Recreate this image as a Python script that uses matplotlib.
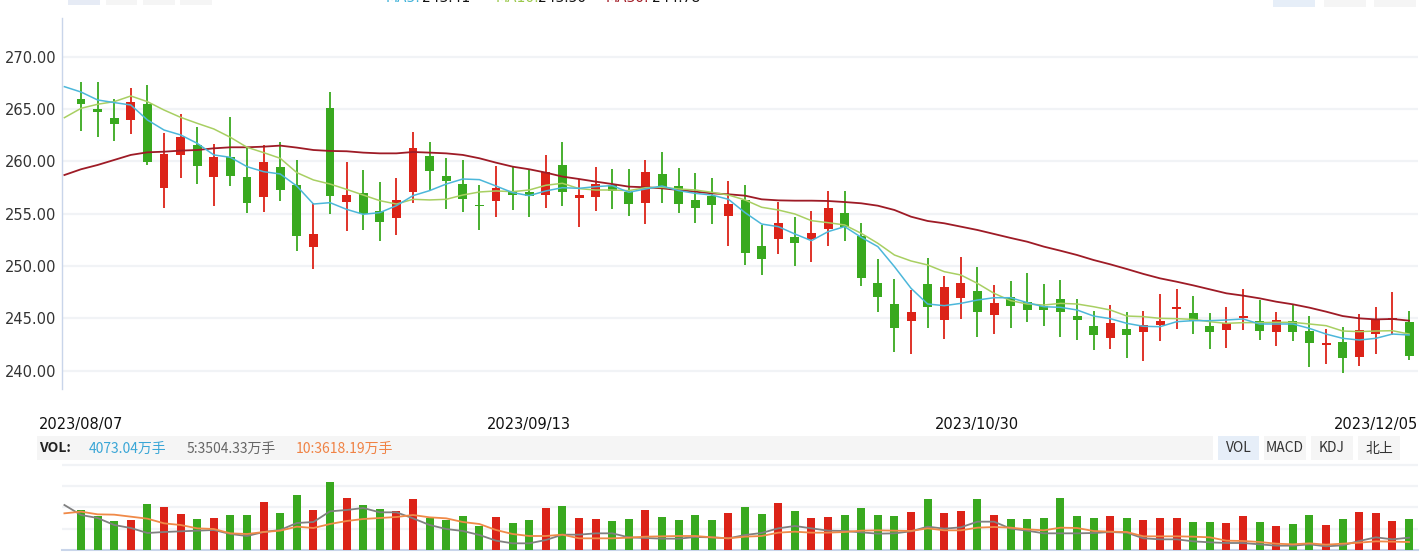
import matplotlib
matplotlib.use('Agg')
import matplotlib.pyplot as plt
import numpy as np
from matplotlib.patches import Rectangle
from matplotlib.transforms import blended_transform_factory

# ---------------- data ----------------
opens = [265.96, 265.00, 264.10, 263.98, 265.48, 257.48, 260.64, 261.53, 258.54, 260.41,
         258.50, 256.62, 259.46, 257.74, 251.85, 265.10, 256.15, 256.97, 255.25, 254.62,
         257.10, 260.51, 258.60, 257.83, 255.76, 256.24, 257.13, 257.04, 256.82, 259.65,
         256.53, 256.62, 257.71, 257.10, 256.05, 258.79, 257.64, 256.31, 256.69, 254.81,
         256.27, 251.91, 252.61, 252.77, 252.61, 253.57, 255.06, 252.87, 248.38, 246.37,
         244.78, 248.28, 244.87, 246.97, 247.61, 245.35, 247.04, 246.59, 246.18, 246.85,
         245.22, 244.27, 243.15, 243.98, 243.73, 244.36, 245.93, 245.51, 244.27, 243.92,
         245.03, 244.75, 243.73, 244.75, 243.79, 242.49, 242.74, 241.34, 243.54, 244.87,
         244.65]
highs = [267.55, 267.55, 266.00, 266.97, 267.30, 262.68, 264.49, 263.28, 261.66, 264.24,
         261.31, 261.53, 261.85, 260.13, 255.99, 266.62, 259.90, 259.17, 258.03, 258.44,
         262.80, 261.85, 260.32, 260.13, 257.71, 259.55, 259.43, 259.17, 260.61, 261.85,
         258.34, 259.46, 259.27, 259.27, 260.13, 260.89, 259.36, 258.89, 258.41, 258.12,
         257.74, 253.95, 256.11, 254.68, 255.26, 257.17, 257.17, 254.14, 250.67, 248.76,
         247.71, 250.76, 249.04, 250.86, 249.90, 248.19, 248.57, 249.33, 248.28, 248.66,
         246.85, 245.70, 246.27, 245.61, 245.70, 247.32, 247.80, 247.13, 245.51, 246.08,
         247.80, 246.75, 245.61, 246.27, 245.22, 243.98, 244.17, 245.41, 246.08, 247.51,
         245.70]
lows = [262.93, 262.30, 261.97, 262.58, 259.65, 255.57, 258.44, 257.87, 255.76, 257.68,
        255.10, 255.19, 256.24, 251.46, 249.75, 255.00, 253.38, 253.47, 252.42, 252.99,
        255.99, 257.23, 255.48, 255.19, 253.47, 254.71, 255.35, 254.71, 255.57, 255.76,
        253.76, 255.29, 255.48, 254.81, 254.04, 256.05, 255.10, 254.14, 254.04, 251.94,
        250.13, 249.17, 251.18, 250.03, 250.41, 251.94, 252.42, 248.12, 245.64, 241.82,
        241.62, 244.11, 243.02, 244.97, 243.25, 243.54, 244.11, 244.68, 244.30, 243.25,
        242.96, 242.00, 242.10, 241.24, 240.96, 242.87, 244.01, 243.54, 242.10, 242.20,
        243.92, 242.96, 242.39, 242.87, 240.38, 240.67, 239.81, 240.48, 241.62, 243.44,
        241.05]
closes = [265.51, 264.75, 263.60, 265.67, 259.97, 260.70, 262.29, 259.59, 260.41, 258.63,
          256.05, 259.90, 257.29, 252.90, 253.06, 256.72, 256.78, 254.97, 254.24, 256.31,
          261.27, 259.11, 258.15, 256.43, 255.70, 257.45, 256.82, 256.72, 258.98, 257.10,
          256.78, 257.83, 257.20, 255.96, 258.98, 257.52, 255.96, 255.57, 255.86, 255.92,
          251.27, 250.70, 254.11, 252.23, 253.15, 255.54, 253.69, 248.89, 247.07, 244.11,
          245.61, 246.11, 247.99, 248.38, 245.64, 246.46, 246.21, 245.83, 245.83, 245.64,
          244.87, 243.44, 244.55, 243.44, 244.36, 244.75, 246.00, 244.78, 243.73, 244.55,
          245.22, 243.82, 244.84, 243.73, 242.68, 242.55, 241.24, 243.89, 244.87, 245.06,
          241.43]

# moving averages; first value belongs to the trading day before 2023/08/07
ma5 = [267.13,
       266.62, 265.86, 265.61, 265.38, 263.95, 262.99, 262.52, 261.72, 260.61, 260.38,
       259.49, 259.01, 258.79, 257.64, 255.92, 256.05, 255.41, 254.94, 255.10, 255.76,
       256.72, 257.20, 257.83, 258.31, 258.25, 257.64, 257.01, 256.72, 257.17, 257.48,
       257.42, 257.58, 257.68, 257.04, 257.36, 257.64, 257.20, 256.94, 256.78, 256.37,
       255.10, 254.01, 253.76, 253.06, 252.42, 253.28, 253.76, 252.74, 251.85, 249.94,
       247.87, 246.37, 246.21, 246.43, 246.75, 246.97, 246.97, 246.50, 246.11, 246.05,
       245.80, 245.22, 244.97, 244.52, 244.24, 244.20, 244.68, 244.78, 244.78, 244.84,
       244.94, 244.46, 244.46, 244.46, 244.04, 243.50, 243.09, 242.93, 243.09, 243.50,
       243.41]
ma10 = [264.17,
        265.06, 265.45, 265.70, 266.24, 265.70, 264.90, 264.20, 263.63, 263.09, 262.29,
        261.34, 260.83, 260.29, 258.92, 258.22, 257.83, 257.32, 256.78, 256.24, 255.92,
        256.37, 256.31, 256.37, 256.78, 257.07, 257.17, 257.10, 257.26, 257.71, 257.90,
        257.39, 257.26, 257.26, 257.20, 257.48, 257.52, 257.36, 257.26, 257.04, 256.78,
        256.31, 255.61, 255.35, 254.97, 254.33, 254.14, 253.92, 253.12, 252.17, 251.05,
        250.48, 250.10, 249.46, 249.14, 248.34, 247.39, 246.69, 246.37, 246.27, 246.43,
        246.37, 246.11, 245.80, 245.22, 245.16, 245.00, 244.97, 244.90, 244.68, 244.52,
        244.59, 244.59, 244.62, 244.62, 244.46, 244.30, 243.79, 243.73, 243.79, 243.82,
        243.50]
ma30 = [258.69,
        259.24, 259.65, 260.13, 260.61, 260.86, 260.92, 261.02, 261.08, 261.24, 261.34,
        261.34, 261.40, 261.50, 261.31, 261.08, 260.99, 260.96, 260.83, 260.76, 260.76,
        260.89, 260.83, 260.76, 260.61, 260.29, 259.87, 259.49, 259.24, 258.92, 258.54,
        258.31, 258.06, 257.83, 257.58, 257.52, 257.42, 257.26, 257.10, 256.94, 256.85,
        256.72, 256.37, 256.27, 256.24, 256.24, 256.21, 256.11, 255.99, 255.76, 255.35,
        254.71, 254.30, 254.08, 253.76, 253.44, 253.06, 252.68, 252.32, 251.85, 251.46,
        251.05, 250.57, 250.16, 249.71, 249.24, 248.82, 248.50, 248.15, 247.77, 247.39,
        247.17, 246.91, 246.59, 246.34, 246.02, 245.64, 245.22, 245.00, 244.90, 244.94,
        244.78]

# volume in 万手
volumes = [5256, 4468, 3811, 3942, 6044, 5650, 4730, 4073, 4205, 4599,
           4599, 6307, 4862, 7227, 5256, 8935, 6833, 5913, 5387, 5125,
           6701, 4205, 3942, 4468, 3154, 4336, 3548, 3942, 5519, 5782,
           4205, 4073, 3811, 4073, 5256, 4336, 3942, 4599, 3942, 4862,
           5650, 4730, 6176, 5125, 4205, 4336, 4599, 5519, 4599, 4468,
           4993, 6701, 4862, 5125, 6701, 4599, 4073, 4073, 4205, 6833,
           4468, 4205, 4468, 4205, 3942, 4205, 4205, 3679, 3679, 3548,
           4468, 3679, 3154, 3416, 4599, 3285, 4073, 4993, 4862, 3811,
           4073]
vol_ma5 = [5913,
           4599, 4205, 3285, 2891, 2234, 2365, 2453, 2540, 2628, 2102,
           1840, 2365, 2628, 3548, 3679, 5081, 5256, 5519, 4949, 4949,
           4161, 3285, 2759, 2497, 1971, 1226, 876, 876, 1314, 2015,
           2015, 2190, 2190, 1664, 1577, 1489, 1489, 1708, 1664, 1533,
           1971, 2234, 2847, 3154, 2847, 2540, 2497, 2321, 2146, 2190,
           2453, 3066, 2803, 2978, 3723, 3723, 2803, 2540, 2190, 2190,
           2190, 2234, 2365, 2278, 1533, 1402, 1402, 1139, 1007, 920,
           920, 745, 569, 569, 745, 482, 613, 1183, 1664, 1402,
           1621]
vol_ma10 = [4818,
            5037, 4687, 4643, 4380, 4117, 3504, 3285, 2847, 2759, 2190,
            2102, 2365, 2540, 3066, 2891, 3416, 3811, 4073, 4205, 4336,
            4599, 4292, 4161, 3679, 3416, 2628, 2102, 1840, 1840, 2015,
            1533, 1533, 1533, 1621, 1752, 1796, 1840, 1840, 1664, 1533,
            1752, 1840, 2278, 2409, 2278, 2278, 2365, 2540, 2584, 2540,
            2497, 2847, 2584, 2584, 2935, 3022, 2935, 2716, 2584, 2935,
            2891, 2497, 2409, 2365, 1796, 1796, 1796, 1752, 1664, 1226,
            1183, 1051, 832, 745, 876, 701, 832, 964, 1139, 1095,
            1051]

price_ticks = [240, 245, 250, 255, 260, 265, 270]
date_labels = ['2023/08/07', '2023/09/13', '2023/10/30', '2023/12/05']
date_index = [0, 27, 54, 80]
vol_grid = [2803, 5606, 8410, 11213]

vol_info = [('VOL:', '#222222', True), ('4073.04万手', '#3aa6d6', False),
            ('5:3504.33万手', '#666666', False), ('10:3618.19万手', '#f08244', False)]
vol_info_x = [39, 89, 187, 296]
tabs = ['VOL', 'MACD', 'KDJ', '北上']
ma_legend = [('MA5:', '243.41', '#3eb1d8'), ('MA10:', '243.50', '#9ac84a'), ('MA30:', '244.78', '#a11a24')]

# ---------------- style ----------------
RED = '#dc2318'
GREEN = '#39a91f'
C_MA5 = '#4cb7da'
C_MA10 = '#a8cf62'
C_MA30 = '#9e1b26'
GRID = '#f1f3f6'
AXIS = '#c9d5ea'

plt.rcParams['font.family'] = ['DejaVu Sans', 'Noto Sans CJK SC']

W, H = 1425, 553
fig = plt.figure(figsize=(W / 100, H / 100), dpi=100)


def fx(px):
    return px / W


def fy(py):
    return 1 - py / H


ax = fig.add_axes([fx(62), fy(389), (1418 - 62) / W, (389 - 18) / H])
axv = fig.add_axes([fx(62), fy(550), (1418 - 62) / W, (550 - 462) / H])

n = len(closes)
x = np.arange(n)
xm = np.arange(-1, n)
o = np.array(opens); c = np.array(closes)
hi = np.array(highs); lo = np.array(lows)
up = c >= o
cols = np.where(up, RED, GREEN)

# candles
ax.vlines(x, lo, hi, colors=cols, linewidth=1.3, zorder=3)
ax.bar(x, np.maximum(np.abs(c - o), 0.13), bottom=np.minimum(o, c), width=0.54,
       color=cols, linewidth=0, zorder=4)
ax.plot(xm, ma30, color=C_MA30, lw=1.3, zorder=5)
ax.plot(xm, ma10, color=C_MA10, lw=1.1, zorder=5)
ax.plot(xm, ma5, color=C_MA5, lw=1.1, zorder=6)

xl = (-1.145, 80.54)
ax.set_xlim(*xl)
ax.set_ylim(238.25, 273.69)
ax.set_yticks(price_ticks)
ax.set_yticklabels([f'{t:.2f}' for t in price_ticks])
ax.set_xticks([])
ax.tick_params(axis='y', length=0, pad=4, labelsize=10.5, labelcolor='#333333')
ax.grid(axis='y', color=GRID, lw=1.6, zorder=0)
for s in ['top', 'right', 'bottom']:
    ax.spines[s].set_visible(False)
ax.spines['left'].set_color(AXIS)
ax.spines['left'].set_linewidth(1.0)

# date labels
tr = blended_transform_factory(ax.transData, fig.transFigure)
for lab, i in zip(date_labels, date_index):
    if i == date_index[-1]:
        fig.text(fx(1418), fy(424.5), lab, ha='right', va='center', fontsize=10.5, color='#111111')
    else:
        fig.text(i, fy(424.5), lab, ha='center', va='center', fontsize=10.5,
                 color='#111111', transform=tr)

# volume panel
axv.bar(x, volumes, width=0.48, color=cols, linewidth=0, zorder=3)
axv.plot(xm, vol_ma5, color='#808080', lw=1.3, zorder=4)
axv.plot(xm, vol_ma10, color='#f08a48', lw=1.3, zorder=4)
axv.set_xlim(*xl)
axv.set_ylim(0, 11563)
axv.set_yticks(vol_grid)
axv.set_yticklabels([])
axv.set_xticks([])
axv.tick_params(length=0)
axv.grid(axis='y', color=GRID, lw=1.6, zorder=0)
for s in ['top', 'right', 'left']:
    axv.spines[s].set_visible(False)
axv.spines['bottom'].set_color(AXIS)
axv.spines['bottom'].set_linewidth(1.5)

# VOL info strip
fig.add_artist(Rectangle((fx(37), fy(460)), (1213 - 37) / W, 24 / H,
                         transform=fig.transFigure, facecolor='#f5f5f5', edgecolor='none'))
for (txt, col, bold), px in zip(vol_info, vol_info_x):
    fig.text(fx(px), fy(448.5), txt, color=col, fontsize=10, va='center', ha='left',
             fontweight='bold' if bold else 'normal',
             family=['Noto Sans CJK SC', 'DejaVu Sans'])
tab_x = [(1218, 1259), (1264, 1306), (1311, 1353), (1358, 1400)]
for k, (lab, (a, b)) in enumerate(zip(tabs, tab_x)):
    fig.add_artist(Rectangle((fx(a), fy(460)), (b - a) / W, 24 / H, transform=fig.transFigure,
                             facecolor='#e6eef8' if k == 0 else '#f5f5f5', edgecolor='none'))
    fig.text(fx((a + b) / 2), fy(448.5), lab, color='#333333', fontsize=10, ha='center',
             va='center', family=['Noto Sans CJK SC', 'DejaVu Sans'])

# top toolbar remnants (cut off at the top edge, as in the source screenshot)
for k, (a, b) in enumerate([(68, 100), (106, 137), (143, 175), (180, 212)]):
    fig.add_artist(Rectangle((fx(a), fy(5)), (b - a) / W, 6 / H, transform=fig.transFigure,
                             facecolor='#e6ebf5' if k == 0 else '#f5f5f5', edgecolor='none'))
for k, (a, b) in enumerate([(1273, 1315), (1324, 1366), (1374, 1416)]):
    fig.add_artist(Rectangle((fx(a), fy(7)), (b - a) / W, 8 / H, transform=fig.transFigure,
                             facecolor='#e6eef8' if k == 0 else '#f5f5f5', edgecolor='none'))
for (name, val, col), (px1, px2) in zip(ma_legend, [(386, 422), (496, 538), (606, 652)]):
    fig.text(fx(px1), fy(1.5), name, color=col, fontsize=10, va='baseline', ha='left')
    fig.text(fx(px2), fy(1.5), val, color='#111111', fontsize=10, va='baseline', ha='left')

fig.savefig('out.png', dpi=100, facecolor='white')
